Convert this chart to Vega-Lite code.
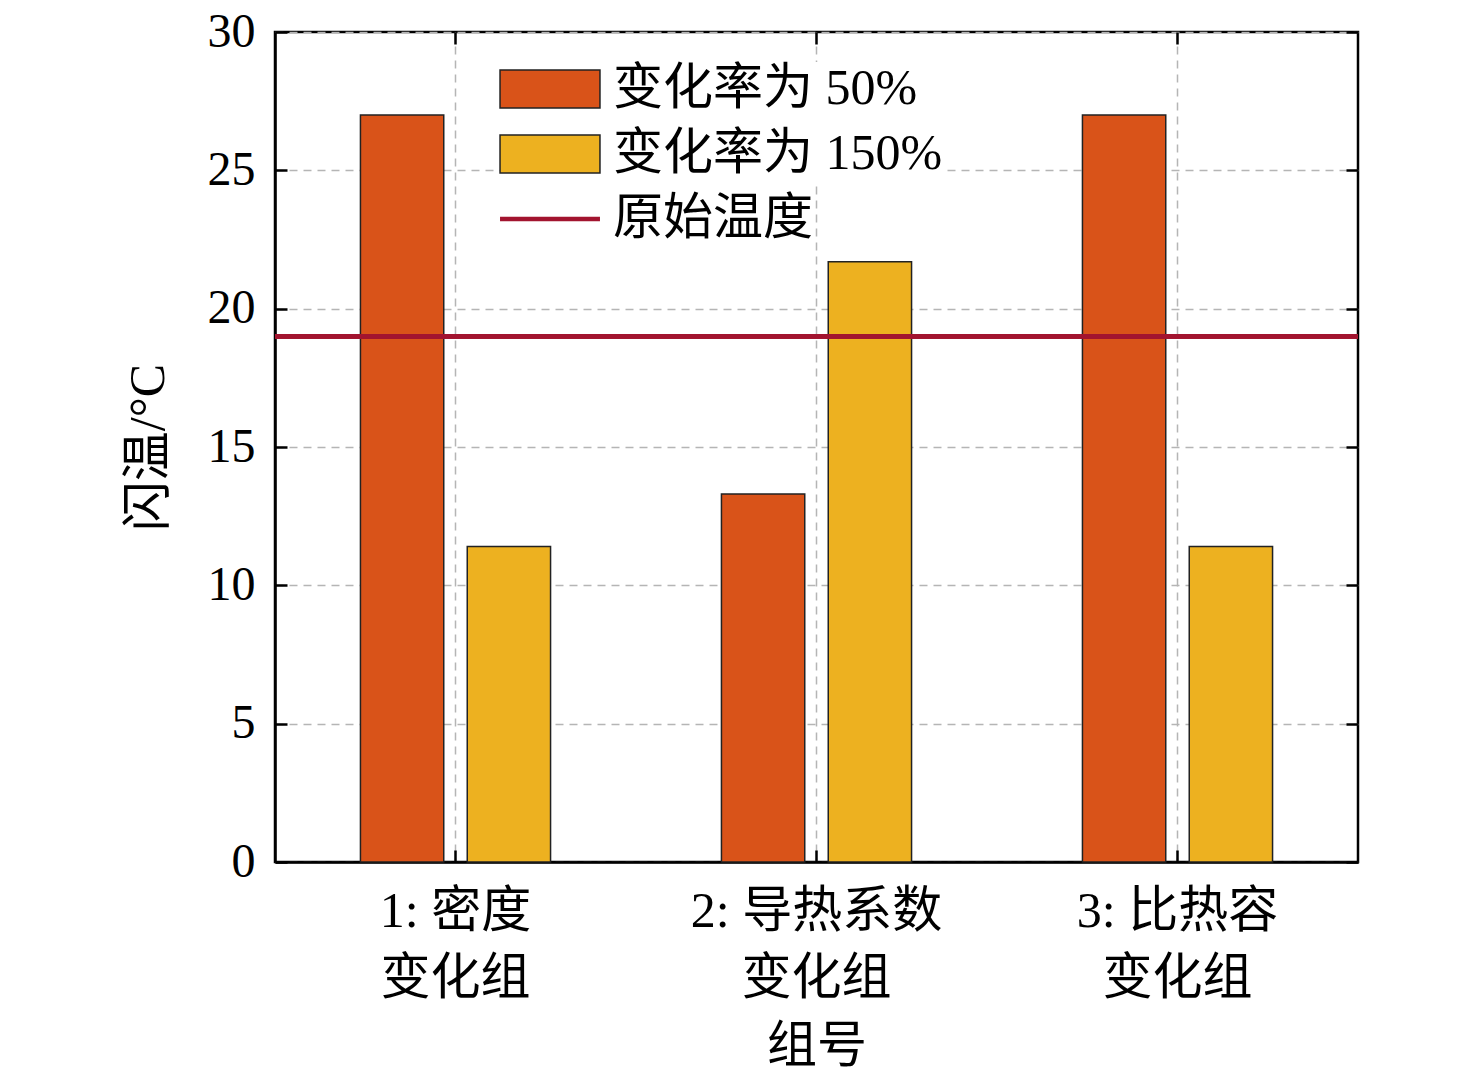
{
  "$schema": "https://vega.github.io/schema/vega-lite/v6.json",
  "width": 1083,
  "height": 830,
  "autosize": {"type": "none"},
  "padding": {"left": 275, "top": 32, "right": 118, "bottom": 221},
  "background": "white",
  "data": {
    "values": [
      {"group": "1: 密度变化组", "series": "变化率为 50%", "value": 27.0},
      {"group": "1: 密度变化组", "series": "变化率为 150%", "value": 11.4},
      {"group": "2: 导热系数变化组", "series": "变化率为 50%", "value": 13.3},
      {"group": "2: 导热系数变化组", "series": "变化率为 150%", "value": 21.7},
      {"group": "3: 比热容变化组", "series": "变化率为 50%", "value": 27.0},
      {"group": "3: 比热容变化组", "series": "变化率为 150%", "value": 11.4}
    ]
  },
  "layer": [
    {
      "mark": {"type": "bar", "stroke": "#222", "strokeWidth": 1.5},
      "encoding": {
        "x": {
          "field": "group",
          "type": "nominal",
          "sort": null,
          "scale": {"paddingInner": 0, "paddingOuter": 0},
          "axis": {
            "title": "组号",
            "labelAngle": 0,
            "labelExpr": "[slice(datum.label, 0, -3), slice(datum.label, -3)]",
            "labelLineHeight": 67,
            "labelFontSize": 50,
            "labelPadding": 36,
            "labelLimit": 0,
            "titleFontSize": 50,
            "titlePadding": 18,
            "grid": true,
            "gridDash": [8, 6],
            "gridColor": "#b5b5b5",
            "gridWidth": 1.5,
            "tickSize": -12
          }
        },
        "xOffset": {
          "field": "series",
          "type": "nominal",
          "sort": ["变化率为 50%", "变化率为 150%"],
          "scale": {"paddingInner": 0.22, "paddingOuter": 0.8}
        },
        "y": {
          "field": "value",
          "type": "quantitative",
          "scale": {"domain": [0, 30], "nice": false},
          "axis": {
            "title": "闪温/°C",
            "values": [0, 5, 10, 15, 20, 25, 30],
            "labelFontSize": 48,
            "labelPadding": 32,
            "titleFontSize": 50,
            "titlePadding": 34,
            "grid": true,
            "gridDash": [8, 6],
            "gridColor": "#b5b5b5",
            "gridWidth": 1.5,
            "tickSize": -12
          }
        },
        "fill": {
          "field": "series",
          "type": "nominal",
          "scale": {
            "domain": ["变化率为 50%", "变化率为 150%"],
            "range": ["#D95319", "#EDB120"]
          },
          "legend": {
            "title": null,
            "orient": "none",
            "legendX": 248,
            "legendY": 30,
            "symbolType": "M-2.63,-1L2.63,-1L2.63,1L-2.63,1Z",
            "symbolSize": 1444,
            "symbolStrokeColor": "#222",
            "symbolStrokeWidth": 1.5,
            "labelFontSize": 50,
            "labelOffset": 38,
            "rowPadding": 15,
            "fillColor": "white",
            "padding": 2
          }
        }
      }
    },
    {
      "mark": {"type": "rule", "strokeWidth": 4.5},
      "encoding": {
        "y": {"datum": 19, "type": "quantitative", "axis": null},
        "stroke": {
          "datum": "原始温度",
          "scale": {"domain": ["原始温度"], "range": ["#A2142F"]},
          "legend": {
            "title": null,
            "orient": "none",
            "legendX": 248,
            "legendY": 160,
            "symbolType": "M-2.63,0L2.63,0",
            "symbolSize": 1444,
            "symbolStrokeWidth": 4.5,
            "symbolFillColor": "transparent",
            "labelFontSize": 50,
            "labelOffset": 38,
            "fillColor": "white",
            "padding": 2
          }
        }
      }
    },
    {
      "mark": {"type": "bar", "opacity": 0},
      "encoding": {
        "x": {
          "field": "group",
          "type": "nominal",
          "sort": null,
          "axis": {"orient": "top", "labels": false, "title": null, "tickSize": -12, "domain": false, "grid": false}
        },
        "y": {
          "field": "value",
          "type": "quantitative",
          "axis": {"orient": "right", "labels": false, "title": null, "values": [0, 5, 10, 15, 20, 25, 30], "tickSize": -12, "domain": false, "grid": false}
        }
      }
    }
  ],
  "resolve": {"axis": {"x": "independent", "y": "independent"}},
  "config": {
    "font": "Liberation Serif, Noto Sans CJK SC",
    "view": {"stroke": "black", "strokeWidth": 2.5},
    "axis": {
      "labelFont": "Liberation Serif, Noto Sans CJK SC",
      "titleFont": "Liberation Serif, Noto Sans CJK SC",
      "labelColor": "black",
      "titleColor": "black",
      "titleFontWeight": "normal",
      "domainColor": "black",
      "domainWidth": 2.5,
      "tickColor": "black",
      "tickWidth": 2.5
    },
    "legend": {
      "labelFont": "Liberation Serif, Noto Sans CJK SC",
      "labelColor": "black",
      "labelLimit": 0
    }
  }
}
